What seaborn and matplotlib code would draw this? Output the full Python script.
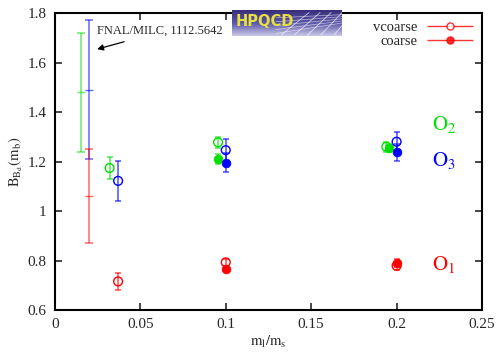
import matplotlib
matplotlib.use("Agg")
import matplotlib.pyplot as plt
from matplotlib.legend_handler import HandlerErrorbar
import numpy as np
import pandas as pd
import seaborn as sns

# FNAL/MILC 1112.5642 (O2, O3, O1)
fnal_x = [0.015, 0.02, 0.02]
fnal_y = [1.48, 1.49, 1.06]
fnal_err = [0.24, 0.28, 0.19]
fnal_op = ["O2", "O3", "O1"]

# very coarse ensembles
vc_x = {"O1": [0.037, 0.1, 0.2], "O2": [0.032, 0.0955, 0.194], "O3": [0.037, 0.1, 0.2]}
vc_y = {"O1": [0.716, 0.793, 0.779], "O2": [1.174, 1.278, 1.26], "O3": [1.122, 1.246, 1.28]}
vc_err = {"O1": [0.035, 0.015, 0.015], "O2": [0.045, 0.022, 0.02], "O3": [0.082, 0.045, 0.04]}

# coarse ensembles
c_x = {"O1": [0.1, 0.2], "O2": [0.0955, 0.1955], "O3": [0.1, 0.2]}
c_y = {"O1": [0.765, 0.791], "O2": [1.211, 1.254], "O3": [1.196, 1.237]}
c_err = {"O1": [0.01, 0.015], "O2": [0.02, 0.015], "O3": [0.04, 0.035]}

colors = {"O1": "#ff0000", "O2": "#00e000", "O3": "#0000ff"}
op_labels = {"O1": ("$\\mathrm{O_1}$", 0.786), "O2": ("$\\mathrm{O_2}$", 1.35), "O3": ("$\\mathrm{O_3}$", 1.206)}

sns.set_theme(style="ticks")
plt.rcParams["font.family"] = ["Liberation Serif", "DejaVu Serif"]
plt.rcParams["mathtext.fontset"] = "stix"

fig = plt.figure(figsize=(4.99, 3.52), dpi=100)
ax = fig.add_axes([0.110, 0.119, 0.856, 0.844])

rows = []
for op in ["O1", "O2", "O3"]:
    for x, y in zip(vc_x[op], vc_y[op]):
        rows.append(dict(x=x, y=y, op=op, lat="vcoarse"))
    for x, y in zip(c_x[op], c_y[op]):
        rows.append(dict(x=x, y=y, op=op, lat="coarse"))
df = pd.DataFrame(rows)

for op in ["O1", "O2", "O3"]:
    col = colors[op]
    ax.errorbar(vc_x[op], vc_y[op], yerr=vc_err[op], fmt="none", ecolor=col,
                alpha=0.7, elinewidth=1.1, capsize=2.5, capthick=1.1)
    ax.errorbar(c_x[op], c_y[op], yerr=c_err[op], fmt="none", ecolor=col,
                alpha=0.7, elinewidth=1.1, capsize=2.5, capthick=1.1)
    sub = df[(df.op == op) & (df.lat == "vcoarse")]
    sns.scatterplot(data=sub, x="x", y="y", ax=ax, marker="o", s=40,
                    facecolor="none", edgecolor=col, linewidth=1.0, legend=False)
    sub = df[(df.op == op) & (df.lat == "coarse")]
    sns.scatterplot(data=sub, x="x", y="y", ax=ax, marker="o", s=40,
                    color=col, edgecolor=col, linewidth=0.5, legend=False)
    lab, ly = op_labels[op]
    ax.text(0.2206, ly, lab, color=col, fontsize=15, va="center", ha="left")

for x, y, e, op in zip(fnal_x, fnal_y, fnal_err, fnal_op):
    ax.errorbar([x], [y], yerr=[e], fmt="_", color=colors[op], ecolor=colors[op],
                alpha=0.6, markersize=6, elinewidth=1.1, capsize=3, capthick=1.1)

ax.annotate("FNAL/MILC, 1112.5642", xy=(0.0247, 1.654), xytext=(0.0247, 1.705),
            fontsize=9, ha="left", va="bottom")
ax.annotate("", xy=(0.0247, 1.654), xytext=(0.0405, 1.684),
            arrowprops=dict(arrowstyle="-|>", color="black", lw=0.9,
                            mutation_scale=9, shrinkA=0, shrinkB=0))

# legend with horizontal error bars
h1 = ax.errorbar([], [], xerr=[], fmt="o", mfc="white", mec="red", ecolor="red",
                 color="red", capsize=3, elinewidth=1, alpha=0.8)
h2 = ax.errorbar([], [], xerr=[], fmt="o", mfc="red", mec="red", ecolor="red",
                 color="red", capsize=3, elinewidth=1, alpha=0.8)
ax.legend([h1, h2], ["vcoarse", "coarse"], loc="upper right", frameon=False,
          markerfirst=False, fontsize=10.5, handlelength=3.3, handletextpad=0.6,
          labelspacing=0.05, borderaxespad=0.15, markerscale=0.85,
          handler_map={type(h1): HandlerErrorbar(xerr_size=1.6)})

ax.set_xlim(0, 0.25)
ax.set_ylim(0.6, 1.8)
ax.set_xticks(np.arange(0, 0.2501, 0.05))
ax.set_xticklabels(["0", "0.05", "0.1", "0.15", "0.2", "0.25"])
ax.set_yticks(np.arange(0.6, 1.801, 0.2))
ax.set_yticklabels(["0.6", "0.8", "1", "1.2", "1.4", "1.6", "1.8"])
ax.tick_params(direction="in", top=True, right=True, length=5, width=1.2,
               labelsize=11, pad=6)
for s in ax.spines.values():
    s.set_linewidth(1.5)
    s.set_color("black")
ax.set_xlabel("$\\mathrm{m_l/m_s}$", fontsize=10.5, labelpad=2)
ax.set_ylabel("$\\mathrm{B_{B_d}(m_b)}$", fontsize=10.5, labelpad=2)

# HPQCD logo
logo = fig.add_axes([232 / 499, 1 - 36 / 352, 110 / 499, 26 / 352])
grad = np.linspace(0, 1, 50).reshape(-1, 1)
grad = np.tile(grad, (1, 100))
logo.imshow(grad, cmap=matplotlib.colors.LinearSegmentedColormap.from_list(
    "logo", ["#3a2e7a", "#5a56a8", "#c9c6e6"]), aspect="auto", extent=(0, 1, 1, 0))
for k in range(5):
    logo.plot([0.45 + 0.12 * k, 0.7 + 0.1 * k], [0.95, 0.1], color="white", lw=0.6, alpha=0.7)
    logo.plot([0.4, 1.0], [0.9 - 0.15 * k, 0.5 - 0.08 * k], color="white", lw=0.5, alpha=0.6)
logo.text(0.03, 0.45, "HPQCD", color="#e8e040", fontsize=10.5, fontweight="bold",
          family="DejaVu Sans", va="center", ha="left")
logo.set_xlim(0, 1)
logo.set_ylim(1, 0)
logo.axis("off")

fig.savefig("out.png", dpi=100)
